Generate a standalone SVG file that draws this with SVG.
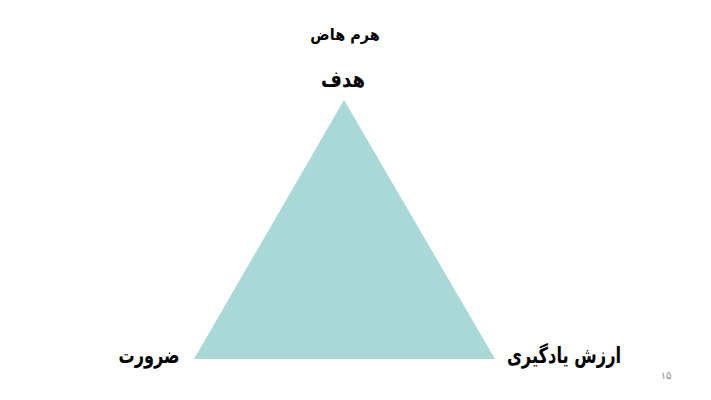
<svg xmlns="http://www.w3.org/2000/svg" width="711" height="400" viewBox="0 0 711 400">
<style>
.t{font-family:"DejaVu Sans","Noto Sans",sans-serif;font-weight:bold;fill:#000;text-anchor:middle}
.n{font-family:"DejaVu Sans","Noto Sans",sans-serif;fill:#888;font-size:10px;text-anchor:middle}
</style>
<rect width="711" height="400" fill="#fff"/>
<g id="title"><text class="t" transform="translate(345,40) scale(0.9,1)" font-size="16" direction="rtl">هرم هاض</text></g>
<g id="pyramid"><polygon points="344,100 194,359 495,359" fill="#A8D9D7"/></g>
<g id="goal"><text class="t" transform="translate(343,87) scale(0.82,1)" font-size="22" direction="rtl">هدف</text></g>
<g id="necessity"><text class="t" transform="translate(149,363) scale(0.73,1)" font-size="22" direction="rtl">ضرورت</text></g>
<g id="learning"><text class="t" transform="translate(564,363) scale(0.74,1)" font-size="22" direction="rtl">ارزش یادگیری</text></g>
<g id="connectors"></g>
<g id="page"><text class="n" x="666" y="379">۱۵</text></g>
</svg>
